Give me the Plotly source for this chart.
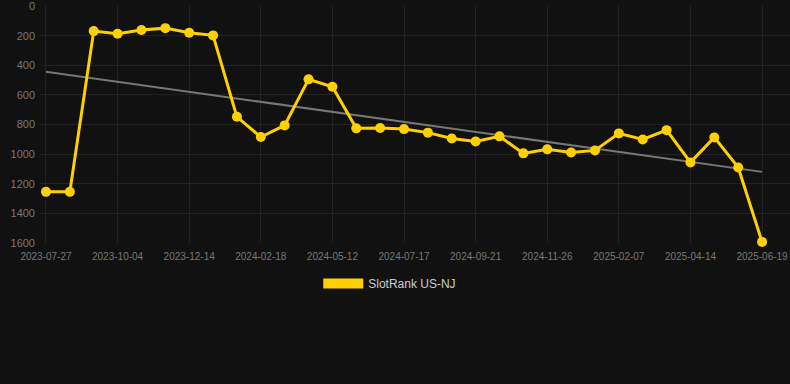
import plotly.graph_objects as go

dates = ["2023-07-27", "2023-08-19", "2023-09-11", "2023-10-04", "2023-10-28", "2023-11-20",
         "2023-12-14", "2024-01-05", "2024-01-27", "2024-02-18", "2024-03-16", "2024-04-14",
         "2024-05-12", "2024-06-03", "2024-06-25", "2024-07-17", "2024-08-08", "2024-08-30",
         "2024-09-21", "2024-10-13", "2024-11-04", "2024-11-26", "2024-12-20", "2025-01-14",
         "2025-02-07", "2025-03-01", "2025-03-23", "2025-04-14", "2025-05-06", "2025-05-28",
         "2025-06-19"]
ranks = [1255, 1255, 169, 187, 162, 149, 180, 198, 748, 885, 806, 495, 545, 826, 824, 831,
         855, 894, 914, 880, 995, 968, 989, 975, 860, 901, 838, 1056, 887, 1090, 1593]
trend_x = [dates[0], dates[-1]]
trend_y = [444, 1120]
tick_labels = dates[::3]
y_ticks = [0, 200, 400, 600, 800, 1000, 1200, 1400, 1600]
series_name = "SlotRank US-NJ"

gold = "#FFD000"
fig = go.Figure()
fig.add_trace(go.Scatter(x=trend_x, y=trend_y, mode="lines",
                         line=dict(color="#777777", width=2), showlegend=False, hoverinfo="skip"))
fig.add_trace(go.Scatter(x=dates, y=ranks, mode="lines+markers",
                         line=dict(color=gold, width=3), marker=dict(color=gold, size=10),
                         showlegend=False, cliponaxis=False))
fig.add_trace(go.Scatter(x=[None], y=[None], mode="lines", name=series_name,
                         line=dict(color=gold, width=10), showlegend=True))

fig.update_layout(
    width=790, height=384,
    paper_bgcolor="#111111", plot_bgcolor="#111111",
    margin=dict(l=40, r=0, t=6, b=141),
    font=dict(family="Arial, Liberation Sans, sans-serif", color="#888888", size=11),
    showlegend=True,
    legend=dict(orientation="h", x=0.371, xanchor="left", y=-0.11, yanchor="top",
                font=dict(color="#cccccc", size=12), itemwidth=40, bgcolor="rgba(0,0,0,0)"),
)
fig.update_xaxes(type="category", categoryorder="array", categoryarray=dates,
                 range=[-0.25, 31.17], tickvals=tick_labels, ticktext=tick_labels,
                 showgrid=True, gridcolor="#222222", zeroline=False, showline=False,
                 tickfont=dict(size=10, color="#777777"), ticks="", ticklabelstandoff=6,
                 ticklabeloverflow="allow")
fig.update_yaxes(range=[1600.5, -0.5], tickvals=y_ticks, showgrid=True, gridcolor="#222222",
                 zeroline=False, showline=False, tickfont=dict(size=11, color="#777777"),
                 ticks="", ticklabelstandoff=4, ticklabeloverflow="allow")

fig.write_html("out.html", config={"displayModeBar": False},
               post_script="document.body.style.margin='0';document.body.style.background='#111111';")
